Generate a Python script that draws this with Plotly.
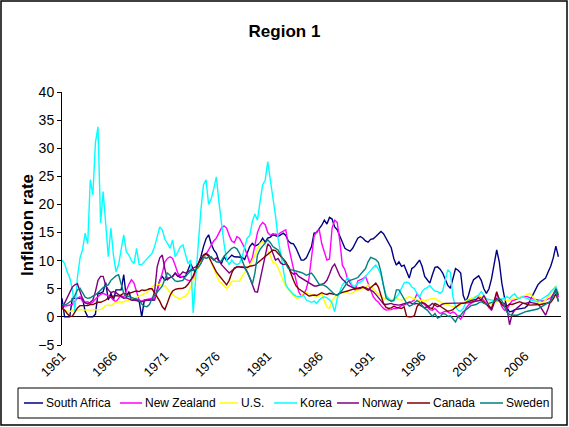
import plotly.graph_objects as go

START_YEAR = 1961
tick_years = [1961, 1966, 1971, 1976, 1981, 1986, 1991, 1996, 2001, 2006]
tick_labels = ["1961", "1966", "1971", "1976", "1981", "1986", "1991", "1996", "2001", "2006"]

south_africa = [
    3.3, 0, 0, 0, 3.3, 3.3, 3.3, 3.3, 3.3, 1.0,
    0, 0, 0, 0.5, 4.2, 4.2, 4.5, 6.1, 3.0, 4.2,
    3.0, 4.8, 4.8, 4.8, 7.5, 3.5, 4.5, 3.0, 3.0, 3.0,
    2.8, 0, 3.0, 3.0, 3.0, 3.0, 3.0, 4.8, 6.5, 7.2,
    6.5, 6.8, 7.0, 7.2, 7.8, 7.3, 7.0, 7.2, 7.2, 8.4,
    9.5, 8.5, 7.8, 9.5, 10.7, 12.5, 13.9, 14.6, 13.0, 11.9,
    11.3, 10.0, 9.5, 10.7, 10.0, 10.5, 11.0, 10.7, 10.7, 10.7,
    10.6, 10.2, 11.3, 12.5, 13.1, 12.6, 12.8, 13.2, 14.0, 13.3,
    14.0, 14.2, 14.6, 14.4, 14.3, 14.6, 14.9, 14.5, 13.5, 13.1,
    13.0, 12.2, 11.0, 10.1, 10.1, 10.5, 11.5, 12.5, 14.9, 15.0,
    15.7, 16.3, 17.2, 16.5, 17.7, 17.4, 16.0, 15.5, 14.4, 13.1,
    12.2, 11.9, 11.7, 12.2, 13.0, 14.0, 14.3, 14.0, 13.5, 13.3,
    13.8, 13.9, 14.3, 14.8, 15.2, 14.8, 14.0, 13.3, 12.3, 10.4,
    9.2, 9.8, 9.0, 9.2, 8.0, 6.9, 8.6, 8.9, 9.5, 10.1,
    9.0, 7.2, 6.6, 6.0, 7.5, 8.8, 8.9, 8.5, 7.8, 6.5,
    5.6, 5.1, 7.0, 8.6, 8.3, 7.8, 3.8, 2.7, 3.8, 5.5,
    6.6, 7.0, 7.3, 6.5, 5.0, 4.2, 5.0, 6.8, 9.5, 11.9,
    9.8, 6.0, 3.5, 1.6, 0.9, 1.0, 1.3, 1.4, 1.5, 1.5,
    1.6, 2.0, 3.0, 4.0, 5.0, 5.7, 6.2, 6.6, 6.9, 8.0,
    9.0, 10.5, 12.6, 10.7,
]

new_zealand = [
    1.8, 1.9, 2.0, 2.1, 2.2, 2.8, 3.3, 3.6, 2.7, 2.6,
    2.7, 2.4, 2.6, 3.2, 3.6, 4.0, 4.2, 4.0, 3.8, 3.5,
    3.0, 2.7, 3.3, 3.8, 3.5, 4.8, 5.8, 6.6, 6.0, 4.5,
    3.0, 2.8, 3.0, 3.1, 3.2, 3.3, 3.2, 4.5, 6.3, 7.8,
    9.8, 10.4, 10.7, 10.4, 9.2, 7.8, 7.2, 7.1, 6.7, 6.5,
    6.5, 7.0, 8.0, 8.8, 9.5, 10.2, 11.0, 12.0, 12.8, 13.5,
    14.0, 15.0, 15.8, 16.2, 15.8, 14.5, 13.5, 13.2, 14.3, 14.0,
    13.2, 12.3, 11.0, 9.5, 10.5, 13.1, 15.0, 16.2, 16.8, 16.4,
    15.0, 14.5, 14.8, 14.7, 14.6, 15.0, 15.3, 15.5, 12.7, 10.8,
    8.5, 6.5, 4.5, 3.7, 4.0, 5.0, 6.8, 10.2, 14.3, 15.2,
    15.5, 13.0, 11.5, 10.1, 10.3, 15.8, 17.2, 16.8, 13.5, 9.2,
    8.4, 6.8, 6.0, 5.3, 4.7, 6.4, 6.6, 6.8, 7.2, 6.0,
    4.5, 3.6, 3.0, 2.6, 2.0, 1.5, 1.2, 1.2, 1.3, 1.5,
    1.5, 1.7, 2.0, 2.1, 2.4, 2.6, 2.7, 3.0, 4.1, 3.5,
    2.6, 2.2, 1.8, 1.3, 1.2, 1.5, 1.0, 0.6, 0.8, 1.0,
    0.9, 0.6, 0.9, 0.6, 0.0, -0.4, 0.3, 1.5, 2.1, 2.4,
    2.7, 3.0, 3.7, 3.4, 2.9, 2.4, 1.6, 1.2, 2.5, 4.2,
    3.0, 1.8, 1.2, 1.3, 2.2, 2.9, 3.0, 3.2, 3.4, 3.6,
    3.6, 3.6, 3.4, 3.2, 3.1, 3.0, 2.9, 2.8, 3.0, 3.2,
    3.4, 4.0, 4.6, 3.5,
]

us = [
    1.5, 1.2, 1.0, 0.9, 1.2, 1.3, 1.2, 1.3, 1.2, 1.2,
    1.2, 1.2, 1.3, 1.2, 1.2, 1.3, 1.6, 2.0, 2.1, 2.0,
    2.3, 2.6, 2.7, 2.6, 2.7, 2.8, 3.0, 3.1, 3.3, 3.5,
    3.8, 3.9, 4.1, 4.3, 4.7, 5.4, 5.6, 5.7, 5.8, 5.6,
    5.5, 5.0, 4.3, 4.0, 3.6, 3.4, 3.2, 3.5, 3.7, 4.2,
    5.2, 6.5, 7.4, 8.8, 10.0, 10.7, 11.1, 10.8, 9.7, 8.4,
    7.5, 6.4, 6.0, 5.5, 5.1, 5.5, 6.3, 6.4, 6.3, 6.3,
    7.2, 7.8, 8.5, 9.2, 10.0, 11.0, 12.2, 13.0, 13.4, 12.8,
    11.8, 10.9, 9.6, 9.6, 8.7, 7.6, 6.3, 5.4, 4.9, 4.3,
    3.7, 3.3, 3.4, 3.8, 4.2, 4.3, 4.1, 3.9, 3.7, 3.6,
    3.8, 4.1, 2.8, 1.8, 1.5, 2.9, 3.5, 3.9, 4.2, 4.5,
    4.4, 4.2, 4.1, 4.3, 4.6, 4.8, 4.8, 5.0, 5.3, 5.7,
    5.4, 5.0, 4.5, 4.0, 3.7, 3.3, 3.1, 3.1, 3.0, 3.2,
    3.3, 3.1, 3.0, 3.1, 3.3, 3.6, 3.4, 3.2, 3.0, 2.9,
    3.0, 2.9, 3.0, 3.2, 3.3, 3.3, 3.0, 2.6, 2.4, 2.2,
    2.2, 2.0, 1.8, 1.7, 1.9, 2.2, 2.5, 2.9, 3.1, 3.3,
    3.5, 3.6, 3.8, 3.6, 3.3, 3.0, 2.7, 2.2, 2.4, 2.6,
    2.9, 3.2, 3.0, 2.9, 3.0, 3.2, 3.3, 3.3, 3.5, 3.7,
    3.9, 4.0, 4.2, 3.5, 3.0, 2.6, 2.4, 2.5, 3.0, 3.6,
    4.1, 4.8, 5.4, 4.2,
]

korea = [
    10.1, 9.5, 8.0, 7.0, 5.0, 1.0, 7.0, 10.5, 12.0, 14.9,
    13.0, 24.4, 21.7, 31.0, 33.8, 16.7, 22.3, 16.0, 10.7, 15.8,
    11.0, 8.0, 9.3, 12.0, 14.6, 11.6, 11.0, 10.0, 9.5, 12.2,
    9.3, 9.3, 9.8, 10.4, 10.8, 11.3, 12.5, 14.3, 16.0, 15.5,
    13.8, 13.1, 12.2, 13.7, 10.7, 11.5, 12.5, 12.8, 11.3, 9.5,
    10.1, 0.7, 7.0, 13.1, 19.0, 23.5, 24.4, 20.0, 21.0, 22.8,
    24.9, 20.5, 16.5, 13.0, 10.1, 9.3, 10.1, 9.5, 9.3, 9.5,
    10.7, 12.3, 14.0, 14.5, 17.0, 18.3, 17.2, 20.5, 23.5, 24.3,
    27.6, 24.3, 21.4, 18.0, 14.0, 11.0, 8.0, 5.8, 5.0, 4.5,
    4.0, 3.7, 3.6, 3.7, 3.8, 3.0, 2.8, 2.6, 2.8, 2.4,
    3.0, 3.4, 3.6, 3.4, 3.0, 2.5, 0.9, 3.3, 4.5, 5.7,
    6.2, 7.0, 6.5, 5.5, 5.5, 6.0, 6.2, 6.5, 7.2, 7.8,
    8.3, 8.8, 9.2, 8.5, 7.5, 5.5, 3.8, 3.3, 2.9, 3.0,
    3.5, 4.2, 5.0, 6.0, 6.2, 6.0, 5.3, 5.0, 4.2, 3.5,
    4.5, 5.0, 5.2, 5.6, 5.0, 4.6, 4.5, 4.2, 4.6, 6.5,
    8.4, 7.9, 3.5, 1.8, 1.2, 1.0, 1.5, 2.5, 3.0, 3.0,
    3.2, 3.6, 3.9, 4.5, 3.8, 3.2, 3.1, 3.0, 2.8, 2.8,
    2.9, 3.2, 3.3, 3.6, 3.3, 3.8, 4.1, 3.4, 3.3, 3.6,
    3.4, 3.3, 3.0, 2.9, 2.8, 2.7, 3.0, 3.3, 3.6, 3.9,
    4.5, 5.0, 5.4, 4.0,
]

norway = [
    1.5, 2.5, 3.5, 4.5, 5.3, 5.7, 5.9, 4.5, 3.2, 2.5,
    2.3, 2.6, 3.0, 4.5, 6.5, 7.2, 7.2, 5.6, 4.8, 4.3,
    4.5, 4.3, 3.9, 3.6, 3.3, 3.4, 3.2, 3.0, 3.0, 2.9,
    2.8, 2.7, 2.8, 3.0, 3.0, 3.0, 4.5, 8.9, 10.5, 11.0,
    8.5, 6.6, 7.0, 7.2, 7.8, 7.2, 7.5, 8.0, 7.8, 8.0,
    8.3, 8.7, 8.9, 9.5, 10.3, 11.0, 11.3, 11.0, 10.5, 10.1,
    10.5, 10.0, 9.3, 8.8, 8.3, 7.8, 8.2, 8.6, 8.9, 8.9,
    8.9, 8.7, 8.0, 7.0, 5.6, 4.5, 4.4, 6.5, 9.0, 10.7,
    13.0, 12.5, 11.3, 10.1, 10.4, 9.6, 9.3, 9.4, 9.0, 8.0,
    7.6, 7.8, 7.2, 6.9, 6.6, 6.3, 6.0, 5.8, 5.5, 5.5,
    5.6, 5.8, 6.0, 6.5, 7.6, 8.8, 9.4, 8.4, 7.3, 6.7,
    6.3, 5.7, 5.4, 5.2, 5.1, 5.0, 5.1, 5.3, 5.2, 5.0,
    4.8, 4.5, 4.0, 3.4, 2.7, 2.3, 2.2, 2.3, 2.4, 2.2,
    2.1, 2.1, 2.2, 2.3, 2.4, 2.6, 2.4, 2.3, 2.4, 2.1,
    1.8, 1.6, 1.8, 2.0, 2.4, 2.1, 1.8, 2.0, 2.3, 2.4,
    2.4, 2.4, 2.4, 2.4, 2.4, 2.4, 2.4, 2.4, 2.5, 2.6,
    2.7, 2.8, 2.9, 3.0, 3.8, 2.8, 2.0, 1.2, 2.5, 3.3,
    2.8, 2.5, 2.4, 1.5, -1.4, 0.5, 1.2, 1.6, 2.0, 2.4,
    2.4, 2.5, 2.6, 2.5, 2.4, 2.3, 1.8, 1.0, 0.3, 1.5,
    3.0, 4.0, 5.0, 3.8,
]

canada = [
    1.5, 1.2, 0.6, 0.1, 0.1, 0.9, 1.6, 2.0, 2.0, 1.9,
    2.0, 2.2, 2.2, 2.4, 2.6, 2.6, 2.8, 3.0, 3.4, 3.6,
    3.7, 3.8, 3.7, 3.9, 4.2, 4.0, 4.2, 4.3, 4.5, 4.6,
    4.5, 4.8, 4.7, 4.8, 5.0, 5.0, 4.3, 3.6, 2.8, 1.8,
    1.3, 2.5, 3.8, 4.6, 4.9, 5.0, 5.0, 5.1, 5.3, 5.8,
    6.5, 7.3, 8.4, 9.5, 10.2, 10.9, 11.2, 10.8, 9.8, 8.8,
    8.0, 7.4, 6.8, 6.2, 5.7, 6.5, 7.8, 8.7, 8.9, 8.9,
    8.8, 8.9, 8.8, 9.0, 9.1, 9.2, 9.6, 10.0, 10.3, 10.7,
    11.2, 11.6, 11.9, 11.8, 11.3, 10.8, 10.4, 9.8, 8.9, 7.6,
    6.5, 5.5, 5.0, 4.7, 4.4, 4.0, 3.7, 3.8, 3.9, 3.8,
    4.0, 4.3, 4.1, 4.0, 4.2, 4.1, 4.0, 3.9, 4.2, 4.4,
    4.5, 4.6, 4.8, 4.9, 5.0, 5.1, 5.2, 5.3, 5.0, 4.7,
    5.2, 5.6, 6.0, 5.3, 4.0, 2.4, 1.7, 1.5, 1.6, 1.9,
    1.7, 1.6, 1.5, 1.8, 0.1, 0.0, 0.0, 0.2, 1.8, 2.4,
    2.5, 2.4, 2.0, 1.6, 1.5, 2.4, 2.2, 1.9, 1.6, 1.3,
    1.0, 1.1, 1.3, 1.7, 2.0, 2.4, 2.4, 2.5, 2.7, 2.9,
    3.0, 3.1, 3.4, 3.0, 2.7, 2.3, 1.8, 1.6, 2.8, 4.5,
    3.0, 2.2, 1.8, 1.9, 2.3, 2.2, 2.4, 2.6, 2.7, 2.5,
    2.3, 2.2, 2.1, 2.1, 2.1, 2.2, 2.2, 2.3, 2.4, 2.5,
    2.6, 3.2, 4.1, 2.8,
]

sweden = [
    2.2, 2.1, 2.3, 2.6, 3.0, 3.8, 4.8, 5.1, 4.3, 3.5,
    3.3, 3.4, 3.7, 3.9, 4.3, 4.8, 5.2, 5.5, 5.7, 6.5,
    6.9, 7.3, 7.5, 6.0, 4.2, 3.8, 3.6, 3.5, 3.3, 3.2,
    3.0, 2.3, 1.9, 1.8, 2.2, 3.3, 3.9, 4.5, 5.0, 5.5,
    6.8, 7.8, 7.4, 6.8, 6.4, 6.3, 6.4, 6.5, 7.2, 7.8,
    8.2, 8.3, 8.4, 8.8, 9.5, 10.7, 10.4, 10.6, 10.7, 10.2,
    9.8, 9.7, 10.0, 10.8, 11.3, 11.8, 12.2, 12.4, 12.1, 11.3,
    10.0, 8.9, 8.0, 6.8, 5.8, 7.8, 11.0, 12.0, 12.6, 13.1,
    13.7, 13.2, 12.5, 12.2, 11.9, 11.0, 10.1, 9.3, 8.6, 8.4,
    8.3, 8.2, 8.1, 7.9, 7.7, 7.4, 7.6, 7.8, 7.2, 6.5,
    5.8, 5.7, 5.6, 5.3, 4.8, 4.4, 4.0, 3.9, 4.2, 4.8,
    5.6, 6.2, 6.5, 6.6, 6.8, 7.0, 7.5, 8.0, 8.6, 9.8,
    10.6, 10.4, 10.2, 9.7, 8.0, 5.5, 3.4, 3.0, 2.8, 2.9,
    4.8, 4.8, 4.0, 3.0, 2.4, 1.9, 2.1, 2.5, 2.9, 2.6,
    2.0, 1.5, 1.2, 0.6, 0.1, 0.6, -0.2, 0.0, 0.6, 0.5,
    0.1, 0.2, -0.3, -0.9, 0.1, 0.3, 0.9, 1.2, 1.6, 2.0,
    2.1, 2.2, 2.5, 2.7, 2.4, 2.3, 2.4, 2.5, 2.7, 3.0,
    3.3, 2.9, 1.9, 0.8, 0.4, 0.3, 0.3, 0.3, 0.5, 0.8,
    0.9, 1.0, 1.1, 1.2, 1.2, 1.4, 1.7, 2.0, 2.3, 2.6,
    2.8, 3.8, 4.8, 2.7,
]

series_names = ["South Africa", "New Zealand", "U.S.", "Korea", "Norway", "Canada", "Sweden"]
series_values = [south_africa, new_zealand, us, korea, norway, canada, sweden]
series_colors = ["#000080", "#FF00FF", "#FFFF00", "#00FFFF", "#800080", "#800000", "#008080"]

n_periods = len(south_africa)
periods = [START_YEAR + i / 4 for i in range(n_periods)]

FONT = "Liberation Sans, Arial, sans-serif"

# ---- layout geometry (pixels) ----
W, H = 569, 427
ML, MR, MT, MB = 62, 8, 92, 82
pw, ph = W - ML - MR, H - MT - MB


def px_x(px):
    return (px - ML) / pw


def px_y(py):
    return (H - MB - py) / ph


# legend key placement (pixels), one entry per series
legend_line_x = [(24, 43), (120, 142), (220, 238), (274, 297), (337, 359), (407, 430), (480, 503)]
legend_text_x = [45, 144, 240, 299, 361, 432, 505]
legend_mid_y = 403

fig = go.Figure()
for name, vals, col in zip(series_names, series_values, series_colors):
    fig.add_trace(go.Scatter(
        x=periods, y=vals, name=name, mode="lines",
        line=dict(color=col, width=1.4), showlegend=False,
    ))

shapes = [
    # outer chart frame
    dict(type="rect", xref="paper", yref="paper",
         x0=px_x(1), x1=px_x(567), y0=px_y(425), y1=px_y(1),
         line=dict(color="black", width=1.5), fillcolor="rgba(0,0,0,0)", layer="below"),
    # legend box
    dict(type="rect", xref="paper", yref="paper",
         x0=px_x(18), x1=px_x(552), y0=px_y(418), y1=px_y(388),
         line=dict(color="black", width=1), fillcolor="white", layer="above"),
]
annotations = [
    dict(text="<b>Inflation rate</b>", xref="paper", yref="paper",
         x=px_x(27), y=px_y(225), textangle=-90, showarrow=False,
         xanchor="center", yanchor="middle",
         font=dict(size=17, family=FONT, color="black")),
]
for name, col, (lx0, lx1), tx in zip(series_names, series_colors, legend_line_x, legend_text_x):
    shapes.append(dict(type="line", xref="paper", yref="paper",
                       x0=px_x(lx0), x1=px_x(lx1), y0=px_y(legend_mid_y), y1=px_y(legend_mid_y),
                       line=dict(color=col, width=1.5), layer="above"))
    annotations.append(dict(text=name, xref="paper", yref="paper",
                            x=px_x(tx), y=px_y(legend_mid_y), showarrow=False,
                            xanchor="left", yanchor="middle", borderpad=0,
                            font=dict(size=12, family=FONT, color="black")))

fig.update_layout(
    width=W, height=H,
    margin=dict(l=ML, r=MR, t=MT, b=MB, autoexpand=False),
    paper_bgcolor="white", plot_bgcolor="white",
    font=dict(family=FONT, color="black"),
    showlegend=False,
    title=dict(text="<b>Region 1</b>", x=0.5, xref="container", xanchor="center",
               y=1 - 31 / H, yref="container", yanchor="middle",
               font=dict(size=17, family=FONT, color="black")),
    xaxis=dict(range=[1961, 2009.5], tickvals=tick_years, ticktext=tick_labels,
               tickangle=-45, showgrid=False, zeroline=False, showline=False,
               ticks="", tickfont=dict(size=13, family=FONT), automargin=False),
    yaxis=dict(range=[-5, 40], tick0=0, dtick=5, showgrid=False,
               zeroline=True, zerolinecolor="black", zerolinewidth=1,
               showline=True, linecolor="black", linewidth=1,
               ticks="outside", ticklen=4, tickcolor="black",
               tickfont=dict(size=14, family=FONT), automargin=False),
    shapes=shapes,
    annotations=annotations,
)

fig.write_html("out.html", config={"displayModeBar": False},
               post_script="document.body.style.margin='0';")
